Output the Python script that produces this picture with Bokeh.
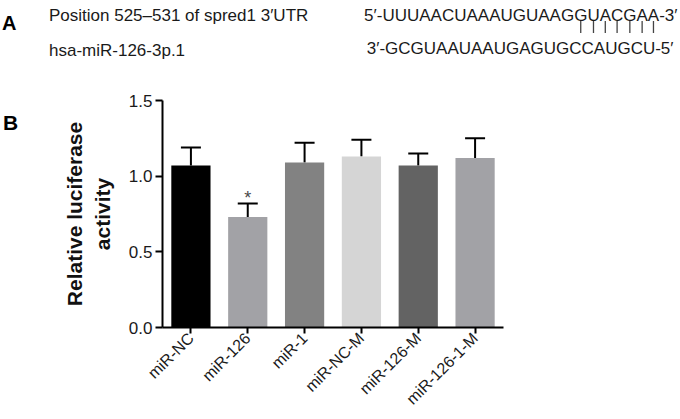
import math
from bokeh.plotting import figure
from bokeh.layouts import column, row
from bokeh.models import (ColumnDataSource, FactorRange, Range1d, Whisker, TeeHead,
                          FixedTicker, NumeralTickFormatter)
from bokeh.core.properties import value
from bokeh.embed import file_html
from bokeh.resources import INLINE

# ---------------- data ----------------
categories = ["miR-NC", "miR-126", "miR-1", "miR-NC-M", "miR-126-M", "miR-126-1-M"]
means = [1.07, 0.73, 1.09, 1.13, 1.07, 1.12]
upper_err = [1.19, 0.82, 1.22, 1.24, 1.15, 1.25]
bar_colors = ["#000000", "#a2a2a6", "#828282", "#d5d5d5", "#636363", "#a2a2a6"]
significance = ["", "*", "", "", "", ""]
y_ticks = [0.0, 0.5, 1.0, 1.5]

target_label = "Position 525\u2013531 of spred1 3\u2032UTR"
target_seq = "5\u2032-UUUAACUAAAUGUAAGGUACGAA-3\u2032"
mirna_label = "hsa-miR-126-3p.1"
mirna_seq = "3\u2032-GCGUAAUAAUGAGUGCCAUGCU-5\u2032"
n_pairs = 7

# ---------------- layout constants (page pixels) ----------------
FONT = "Liberation Sans"
PAGE_W, PAGE_H = 680, 419
TOP_H = 80          # height of panel A strip
B_W = 40            # width of the "B" letter strip
FRAME_L, FRAME_R, FRAME_T, FRAME_B = 162, 503, 100, 327


def blank(w, h):
    f = figure(width=w, height=h, x_range=Range1d(0, w), y_range=Range1d(h, 0),
               x_axis_location=None, y_axis_location=None,
               output_backend="svg", toolbar_location=None, min_border=0)
    f.outline_line_color = None
    f.grid.visible = False
    f.background_fill_color = "white"
    f.border_fill_color = "white"
    return f


# ---------------- panel A ----------------
top = blank(PAGE_W, TOP_H)
SEQ_SIZE = 17
TOP_END, BOT_END = 677, 673
top.text(x=[1.5], y=[22.7], text=["A"], text_font=value(FONT),
         text_font_size=value("20px"), text_font_style="bold",
         text_baseline="alphabetic", text_color="#000000")
top.text(x=[48.5, 48.5], y=[15, 49.5], text=[target_label, mirna_label],
         text_font=value(FONT), text_font_size=value(f"{SEQ_SIZE}px"),
         text_baseline="alphabetic", text_align="left", text_color="#1a1a1a")
top.text(x=[TOP_END, BOT_END], y=[15, 47.5], text=[target_seq, mirna_seq],
         text_font=value(FONT), text_font_size=value(f"{SEQ_SIZE}px"),
         text_baseline="alphabetic", text_align="right", text_color="#1a1a1a")

# pairing bars: centred under the last paired letters of the target sequence
EM = {"A": .667, "C": .722, "G": .778, "U": .722, "5": .556, "3": .556,
      "-": .333, "\u2032": .191}
end = len(target_seq) - 3
bar_x = []
for k in range(end - n_pairs, end):
    suffix = sum(EM[c] for c in target_seq[k:]) * SEQ_SIZE
    bar_x.append(TOP_END - suffix + EM[target_seq[k]] * SEQ_SIZE / 2)
top.segment(x0=bar_x, y0=[20.5] * n_pairs, x1=bar_x, y1=[32.5] * n_pairs,
            line_color="#444444", line_width=1.3)

# ---------------- "B" strip ----------------
bfig = blank(B_W, PAGE_H - TOP_H)
bfig.text(x=[2.5], y=[113.3 - TOP_H], text=["B"], text_font=value(FONT),
          text_font_size=value("21px"), text_font_style="bold",
          text_baseline="alphabetic", text_color="#000000")

# ---------------- panel B chart ----------------
CW, CH = PAGE_W - B_W, PAGE_H - TOP_H
p = figure(width=CW, height=CH,
           x_range=FactorRange(factors=categories, range_padding=0),
           y_range=Range1d(y_ticks[0], y_ticks[-1]),
           output_backend="svg", toolbar_location=None,
           min_border_left=FRAME_L - B_W, min_border_right=PAGE_W - FRAME_R,
           min_border_top=FRAME_T - TOP_H, min_border_bottom=PAGE_H - FRAME_B)
p.outline_line_color = None
p.xgrid.visible = False
p.ygrid.visible = False
p.background_fill_color = "white"
p.border_fill_color = "white"

src = ColumnDataSource(dict(cat=categories, mean=means, upper=upper_err,
                            color=bar_colors, sig=significance))
p.vbar(x="cat", top="mean", bottom=0, width=0.69, source=src,
       fill_color="color", line_color=None)
p.add_layout(Whisker(source=src, base="cat", upper="upper", lower="mean",
                     line_color="black", line_width=2,
                     upper_head=TeeHead(size=20, line_color="black", line_width=2),
                     lower_head=None))
p.text(x="cat", y="upper", text="sig", source=src, text_align="center",
       text_baseline="alphabetic", y_offset=-5, text_font=value(FONT),
       text_font_size=value("18px"), text_color="#4a4a4a")

yax = p.yaxis[0]
yax.ticker = FixedTicker(ticks=y_ticks)
yax.formatter = NumeralTickFormatter(format="0.0")
yax.axis_label = "Relative luciferase\nactivity"
yax.axis_label_text_font = FONT
yax.axis_label_text_font_size = "21px"
yax.axis_label_text_font_style = "bold"
yax.axis_label_text_color = "#111111"
yax.axis_label_standoff = 12
yax.major_label_text_font = FONT
yax.major_label_text_font_size = "17px"
yax.major_label_text_color = "#1a1a1a"
yax.major_label_standoff = 3
yax.major_tick_out = 7
yax.major_tick_in = 0
yax.minor_tick_line_color = None
yax.axis_line_width = 2
yax.major_tick_line_width = 2

xax = p.xaxis[0]
xax.major_label_orientation = math.pi / 4
xax.major_label_text_font = FONT
xax.major_label_text_font_size = "16px"
xax.major_label_text_color = "#1a1a1a"
xax.major_label_standoff = 2
xax.major_tick_out = 6
xax.major_tick_in = 0
xax.axis_line_width = 2
xax.major_tick_line_width = 2

layout = column(top, row(bfig, p, spacing=0), spacing=0)
open("out.html", "w").write(file_html(layout, INLINE))
